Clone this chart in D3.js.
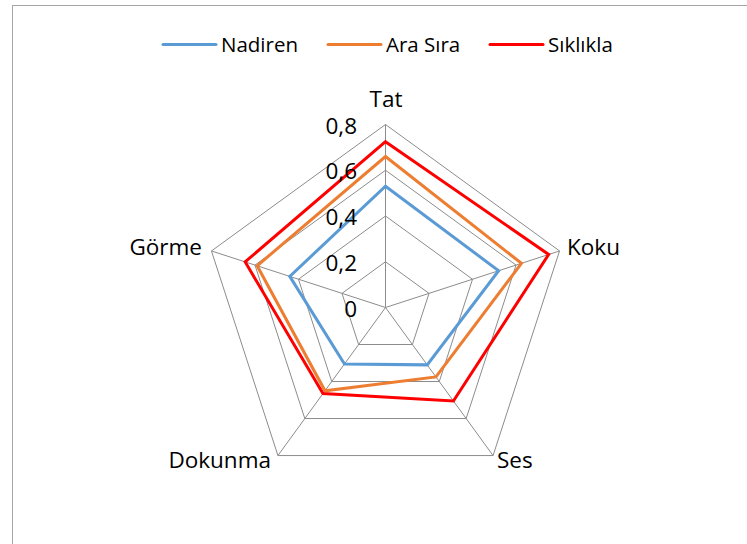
<!DOCTYPE html>
<html>
<head>
<meta charset="utf-8">
<script src="https://cdn.jsdelivr.net/npm/d3@7"></script>
<style>
  body { margin: 0; background: #fff; }
  text { font-family: "Open Sans", "Noto Sans", sans-serif; fill: #000; }
</style>
</head>
<body>
<div id="chart"></div>
<script>
// categories and series
var axesNames = ["Tat", "Koku", "Ses", "Dokunma", "Görme"];
var seriesNames = ["Nadiren", "Ara Sıra", "Sıklıkla"];
var nadiren = [0.53, 0.52, 0.31, 0.305, 0.44];
var araSira = [0.66, 0.625, 0.375, 0.45, 0.59];
var siklikla = [0.725, 0.75, 0.505, 0.465, 0.645];
var tickValues = [0, 0.2, 0.4, 0.6, 0.8];
var tickLabels = ["0", "0,2", "0,4", "0,6", "0,8"];

var colors = ["#5B9BD5", "#ED7D31", "#FF0000"];
var allSeries = [nadiren, araSira, siklikla];

var width = 747, height = 544;
var cx = 385.5, cy = 307.5;

var svg = d3.select("#chart").append("svg").attr("width", width).attr("height", height);

// chart area border (only top/left visible)
svg.append("rect").attr("x", 12.5).attr("y", 5.5).attr("width", 760).attr("height", 560)
  .attr("fill", "none").attr("stroke", "#a6a6a6").attr("stroke-width", 1);

var rScale = d3.scaleLinear().domain([0, 0.8]).range([0, 183]);
var angle = d3.scaleLinear().domain([0, axesNames.length]).range([0, 2 * Math.PI]);

function pt(i, v) {
  var a = angle(i);
  return [cx + rScale(v) * Math.sin(a), cy - rScale(v) * Math.cos(a)];
}

var g = svg.append("g");

// grid rings
tickValues.forEach(function(t) {
  if (t === 0) return;
  var pts = axesNames.map(function(d, i) { return pt(i, t); });
  g.append("path").attr("d", d3.line()(pts) + "Z")
    .attr("fill", "none").attr("stroke", "#8c8c8c").attr("stroke-width", 1);
});

// spokes
axesNames.forEach(function(d, i) {
  var p = pt(i, 0.8);
  g.append("line").attr("x1", cx).attr("y1", cy).attr("x2", p[0]).attr("y2", p[1])
    .attr("stroke", "#8c8c8c").attr("stroke-width", 1);
});

// series
var line = d3.line().curve(d3.curveLinearClosed);
allSeries.forEach(function(s, k) {
  var pts = s.map(function(v, i) { return pt(i, v); });
  g.append("path").attr("d", line(pts))
    .attr("fill", "none").attr("stroke", colors[k]).attr("stroke-width", 3)
    .attr("stroke-linejoin", "miter");
});

// tick labels
tickValues.forEach(function(t, i) {
  g.append("text").attr("x", 357).attr("y", cy - rScale(t) + 9)
    .attr("text-anchor", "end").style("font-size", "22.5px").text(tickLabels[i]);
});

// category labels
var labelPos = [
  {x: 386, y: 107, anchor: "middle"},
  {x: 567, y: 255, anchor: "start"},
  {x: 497, y: 468, anchor: "start"},
  {x: 271, y: 468, anchor: "end"},
  {x: 202, y: 255, anchor: "end"}
];
axesNames.forEach(function(d, i) {
  g.append("text").attr("x", labelPos[i].x).attr("y", labelPos[i].y)
    .attr("text-anchor", labelPos[i].anchor).style("font-size", "22.5px").text(d);
});

// legend
var legendX = [163, 328, 490];
seriesNames.forEach(function(name, k) {
  var lg = svg.append("g").attr("transform", "translate(" + legendX[k] + ",44.5)");
  lg.append("line").attr("x1", 0).attr("x2", 53).attr("y1", 0).attr("y2", 0)
    .attr("stroke", colors[k]).attr("stroke-width", 3).attr("stroke-linecap", "round");
  lg.append("text").attr("x", 58).attr("y", 7).style("font-size", "20.5px").text(name);
});
</script>
</body>
</html>
